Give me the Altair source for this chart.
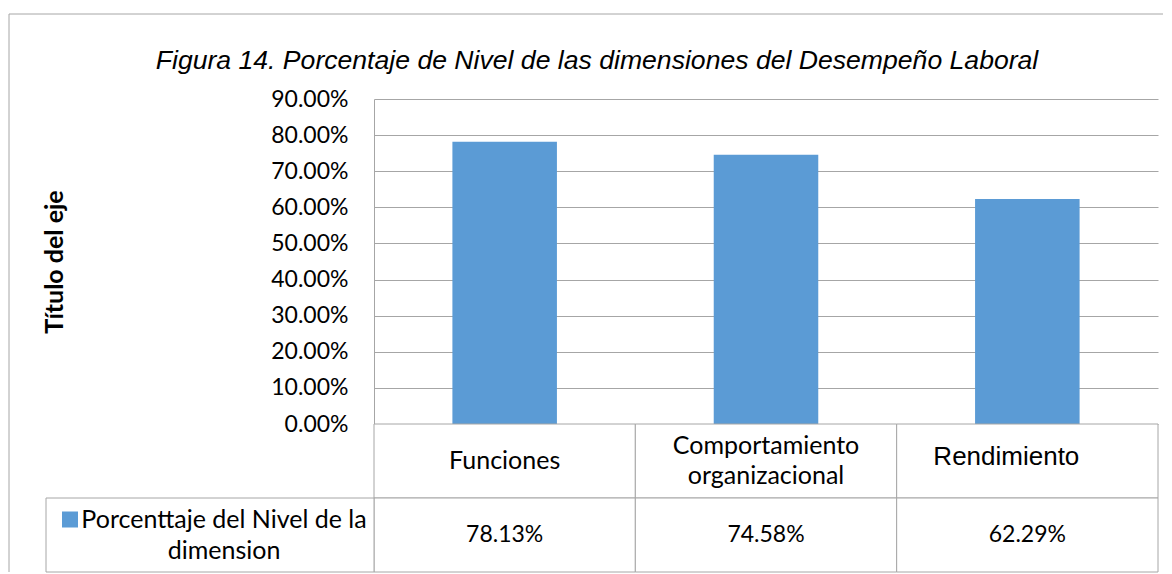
import altair as alt
import pandas as pd

# ---------------- data ----------------
title_text = "Figura 14. Porcentaje de Nivel de las dimensiones del Desempeño Laboral"
axis_title = "Título del eje"
series_name = ["Porcenttaje del Nivel de la", "dimension"]
categories = ["Funciones", "Comportamiento organizacional", "Rendimiento"]
header_lines = [["Funciones"], ["Comportamiento", "organizacional"], ["Rendimiento"]]
values = [0.7813, 0.7458, 0.6229]
value_labels = ["78.13%", "74.58%", "62.29%"]
y_ticks = [0.0, 0.1, 0.2, 0.3, 0.4, 0.5, 0.6, 0.7, 0.8, 0.9]
rows = ["header", "value"]

# ---------------- styles ----------------
BAR = "#5B9BD5"
LINE = "#A6A6A6"
FONT = "Lato"
ARIAL = "Liberation Sans"
W, H_TOP, H_TAB = 784, 325, 148
WORD_SIZE = 25
NUM_SIZE = 23
LH = 30

bars_df = pd.DataFrame({"cat": categories, "value": values})
cells_df = pd.DataFrame([{"cat": c, "row": r} for r in rows for c in categories])
header_data = alt.Data(values=[{"cat": c, "row": "header", "lines": l}
                               for c, l in zip(categories, header_lines)])
value_df = pd.DataFrame({"cat": categories, "row": "value", "label": value_labels})
legend_data = alt.Data(values=[{"row": "value", "name": series_name}])
one = alt.Data(values=[{"t": title_text}])

x_enc = alt.X("cat:N", sort=categories, axis=None,
              scale=alt.Scale(domain=categories, paddingInner=0, paddingOuter=0))
y_row = alt.Y("row:N", sort=rows, axis=None,
              scale=alt.Scale(domain=rows, paddingInner=0, paddingOuter=0))

# ---------------- top: bar chart ----------------
y_axis = alt.Axis(
    values=y_ticks, format=".2%", grid=True, gridColor=LINE, gridWidth=1,
    domain=True, domainColor=LINE, domainWidth=1, ticks=False, tickSize=0,
    labelFont=FONT, labelFontSize=NUM_SIZE, labelColor="black", labelPadding=26,
    title=axis_title, titleFont=FONT, titleFontSize=25, titleFontWeight="bold",
    titleColor="black", titleAngle=270, titleX=-320, titleY=H_TOP / 2,
    titleAlign="center", titleBaseline="middle",
)

bars = alt.Chart(bars_df).mark_bar(color=BAR, width=alt.RelativeBandSize(0.4)).encode(
    x=x_enc,
    y=alt.Y("value:Q", scale=alt.Scale(domain=[0, 0.9], nice=False), axis=y_axis),
)

frame_top = alt.Chart(one).mark_rule(color=LINE, strokeWidth=1).encode(
    x=alt.value(-365), x2=alt.value(789), y=alt.value(-85))
frame_left_top = alt.Chart(one).mark_rule(color=LINE, strokeWidth=1).encode(
    x=alt.value(-365), y=alt.value(-85), y2=alt.value(H_TOP))
title_mark = alt.Chart(one).mark_text(
    font=ARIAL, fontStyle="italic", fontSize=26.6, align="center",
    baseline="alphabetic", color="black").encode(
    x=alt.value(223), y=alt.value(-30), text="t:N")

top = alt.layer(frame_top, frame_left_top, title_mark, bars).properties(width=W, height=H_TOP)

# ---------------- bottom: data table ----------------
cells = alt.Chart(cells_df).mark_rect(fill="white", stroke=LINE, strokeWidth=1).encode(
    x=x_enc, y=y_row)

hdr_single = alt.Chart(header_data).transform_filter(
    (alt.datum.cat != categories[2]) & (alt.expr.length(alt.datum.lines) == 1)).mark_text(
    font=FONT, fontSize=WORD_SIZE, baseline="middle", align="center",
    color="black").encode(x=x_enc, y=y_row, text="lines:N")

hdr_multi = alt.Chart(header_data).transform_filter(
    (alt.datum.cat != categories[2]) & (alt.expr.length(alt.datum.lines) > 1)).mark_text(
    font=FONT, fontSize=WORD_SIZE, lineHeight=LH, baseline="middle", align="center",
    dy=-LH / 2, color="black").encode(x=x_enc, y=y_row, text="lines:N")

rend = alt.Chart(header_data).transform_filter(
    alt.datum.cat == categories[2]).mark_text(
    font=ARIAL, fontSize=26, baseline="middle", align="center", dx=-21, dy=-4,
    color="black").encode(x=x_enc, y=y_row, text="lines:N")

vals = alt.Chart(value_df).mark_text(
    font=FONT, fontSize=NUM_SIZE, baseline="middle", align="center",
    color="black").encode(x=x_enc, y=y_row, text="label:N")

legend_box = alt.Chart(legend_data).mark_rect(fill="white", stroke=LINE, strokeWidth=1).encode(
    x=alt.value(-328), x2=alt.value(0), y=y_row)
legend_text = alt.Chart(legend_data).mark_text(
    font=FONT, fontSize=WORD_SIZE, lineHeight=31, baseline="middle", align="center",
    dy=-15.5, color="black").encode(x=alt.value(-150), y=y_row, text="name:N")
legend_sq = alt.Chart(legend_data).mark_square(
    size=256, color=BAR, opacity=1, yOffset=-15.5).encode(x=alt.value(-304), y=y_row)

frame_left_bottom = alt.Chart(one).mark_rule(color=LINE, strokeWidth=1).encode(
    x=alt.value(-365), y=alt.value(0), y2=alt.value(H_TAB))

bottom = alt.layer(cells, hdr_single, hdr_multi, rend, vals, legend_box, legend_text,
                   legend_sq, frame_left_bottom).properties(width=W, height=H_TAB)

chart = alt.vconcat(top, bottom, spacing=0, bounds="flush").properties(
    padding={"left": 0, "top": 5, "right": 0, "bottom": 0}
).configure_view(stroke=None)

chart.save("out.html", embed_options={"renderer": "svg", "actions": False})
